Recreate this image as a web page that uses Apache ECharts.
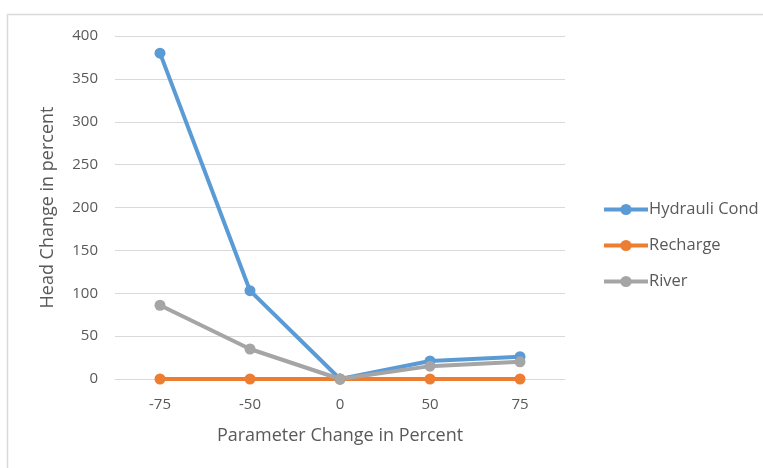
<!DOCTYPE html>
<html>
<head>
<meta charset="utf-8">
<script src="https://cdn.jsdelivr.net/npm/echarts@6/dist/echarts.min.js"></script>
<style>
  html, body { margin: 0; padding: 0; background: #ffffff; }
  #chart { width: 763px; height: 468px; }
</style>
</head>
<body>
<div id="chart"></div>
<script>
// Sensitivity of head change to parameter changes
const categories = ['-75', '-50', '0', '50', '75'];
const hydrauliCond = [380, 103, 0, 21, 26];
const recharge = [0, 0, 0, 0, 0];
const river = [86, 35, 0, 15, 20];

const fontFamily = 'Open Sans, Liberation Sans, sans-serif';
const textColor = '#595959';
const gridColor = '#D9D9D9';

function lineSeries(name, data, color) {
  return {
    name: name,
    type: 'line',
    data: data,
    symbol: 'circle',
    symbolSize: 11,
    lineStyle: { width: 4, color: color },
    itemStyle: { color: color },
    emphasis: { disabled: true },
    animation: false
  };
}

const chart = echarts.init(document.getElementById('chart'), null, { renderer: 'canvas' });
chart.setOption({
  backgroundColor: '#ffffff',
  animation: false,
  graphic: [{
    type: 'rect',
    shape: { x: 7.5, y: 14.5, width: 800, height: 500 },
    style: { fill: 'none', stroke: gridColor, lineWidth: 1.5 },
    silent: true
  }],
  grid: { left: 115, top: 36, width: 450, height: 343 },
  xAxis: {
    type: 'category',
    data: categories,
    boundaryGap: true,
    axisLine: { show: true, lineStyle: { color: gridColor, width: 1 } },
    axisTick: { show: false },
    axisLabel: { color: textColor, fontFamily: fontFamily, fontSize: 15, margin: 18 },
    name: 'Parameter Change in Percent',
    nameLocation: 'middle',
    nameGap: 48,
    nameTextStyle: { color: textColor, fontFamily: fontFamily, fontSize: 18 }
  },
  yAxis: {
    type: 'value',
    min: 0,
    max: 400,
    interval: 50,
    axisLine: { show: false },
    axisTick: { show: false },
    splitLine: { lineStyle: { color: gridColor, width: 1 } },
    axisLabel: { color: textColor, fontFamily: fontFamily, fontSize: 15, margin: 17 },
    name: 'Head Change in percent',
    nameLocation: 'middle',
    nameGap: 58,
    nameTextStyle: { color: textColor, fontFamily: fontFamily, fontSize: 18 }
  },
  legend: {
    orient: 'vertical',
    left: 597,
    top: 196,
    itemWidth: 44,
    itemHeight: 14,
    itemGap: 19,
    lineStyle: { width: 4 },
    textStyle: { color: textColor, fontFamily: fontFamily, fontSize: 16.5, padding: [0, 0, 0, -4] },
    data: ['Hydrauli Cond', 'Recharge', 'River']
  },
  series: [
    lineSeries('Hydrauli Cond', hydrauliCond, '#5B9BD5'),
    lineSeries('Recharge', recharge, '#ED7D31'),
    lineSeries('River', river, '#A5A5A5')
  ]
});
</script>
</body>
</html>
